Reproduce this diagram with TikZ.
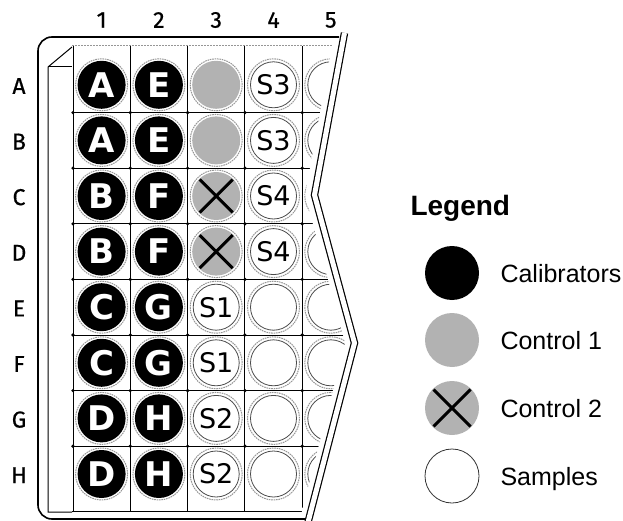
\documentclass[tikz,border=0pt]{standalone}
\usepackage{fontspec}
\setmainfont{Liberation Sans}
\newfontfamily\labfont[FakeBold=0.6]{Fira Sans}
\newfontfamily\wellfont{DejaVu Sans}
\usetikzlibrary{calc}
\definecolor{ctrlgray}{RGB}{178,178,178}
\definecolor{ringgray}{RGB}{150,150,150}
\tikzset{
  ring/.style={draw=ringgray, line width=1pt, dash pattern=on 1.6pt off 0.8pt},
  wellbase/.style={circle, minimum size=48pt, inner sep=0pt, outer sep=0pt},
  calib/.style={wellbase, fill=black, text=white, font=\wellfont\bfseries\fontsize{34}{34}\selectfont},
  ctrlA/.style={wellbase, fill=ctrlgray},
  ctrlB/.style={wellbase, fill=ctrlgray},
  sample/.style={wellbase, minimum size=46pt, fill=white, draw=black!70, line width=0.8pt, font=\wellfont\fontsize{27}{27}\selectfont},
  xmark/.style={line width=3pt, black},
  gridline/.style={line width=1pt, black},
  framel/.style={line width=1.6pt, black},
  lab/.style={font=\labfont\fontsize{23}{23}\selectfont},
  legcirc/.style={circle, minimum size=54pt, inner sep=0pt},
  legtext/.style={anchor=base west, font=\fontsize{25}{25}\selectfont},
}
\begin{document}
\begin{tikzpicture}[x=1pt,y=-1pt]
\useasboundingbox (0,0) rectangle (623,521);

% column and row labels
\foreach \c in {1,...,5}
  \node[lab] (col\c) at ({101.6+57.3*(\c-1)},20) {\c};
\foreach \i/\L in {1/A,2/B,3/C,4/D,5/E,6/F,7/G,8/H}
  \node[lab] (row\L) at (19,{86+55.6*(\i-1)}) {\L};

% grid and wells, clipped by the plate edge
\begin{scope}
  \clip (333,0) -- (333,40) -- (305,195) -- (345,343) -- (297,530) -- (0,530) -- (0,0) -- cycle;
  \draw[draw=ringgray, line width=1pt, dash pattern=on 2pt off 1pt] (72,46) -- (360,46);
  \foreach \x in {73,130.3,187.6,244.9,302.2}
    \draw[gridline] (\x,46) -- (\x,511);
  \foreach \y in {112.6,168.2,223.8,279.4,335,390.6,446.2}
    \draw[gridline] (73,\y) -- (380,\y);
  \draw[gridline] (72,511) -- (380,511);
  \foreach \x in {73,130.3,187.6,244.9,302.2}
    \foreach \y in {112.6,168.2,223.8,279.4,335,390.6,446.2}
      \fill (\x,\y) circle[radius=1.8pt];
  \foreach \c/\i/\sty/\txt in {
      1/1/calib/A,1/2/calib/A,1/3/calib/B,1/4/calib/B,1/5/calib/C,1/6/calib/C,1/7/calib/D,1/8/calib/D,
      2/1/calib/E,2/2/calib/E,2/3/calib/F,2/4/calib/F,2/5/calib/G,2/6/calib/G,2/7/calib/H,2/8/calib/H,
      3/1/ctrlA/{},3/2/ctrlA/{},3/3/ctrlB/{},3/4/ctrlB/{},3/5/sample/S1,3/6/sample/S1,3/7/sample/S2,3/8/sample/S2,
      4/1/sample/S3,4/2/sample/S3,4/3/sample/S4,4/4/sample/S4,4/5/sample/{},4/6/sample/{},4/7/sample/{},4/8/sample/{},
      5/1/sample/{},5/2/sample/{},5/3/sample/{},5/4/sample/{},5/5/sample/{},5/6/sample/{},5/7/sample/{},5/8/sample/{}}
  {
    \path[ring] ({101.6+57.3*(\c-1)},{84.8+55.6*(\i-1)}) circle[radius=26pt];
    \node[\sty] (w-\c-\i) at ({101.6+57.3*(\c-1)},{84.8+55.6*(\i-1)}) {\txt};
  }
  \foreach \i in {3,4} {
    \draw[xmark] ($(w-3-\i.center)+(-16.5,-16.5)$) -- ($(w-3-\i.center)+(16.5,16.5)$);
    \draw[xmark] ($(w-3-\i.center)+(-16.5,16.5)$) -- ($(w-3-\i.center)+(16.5,-16.5)$);
  }
\end{scope}

% plate frame
\draw[framel, rounded corners=14pt] (339,37) -- (38,37) -- (38,519) -- (305,519);
\draw[line width=1pt] (72,47) -- (48,67) -- (48,512) -- (72,512);
\draw[line width=1pt] (48,67) -- (72,67);
\draw[line width=1.2pt, double=white, double distance=5pt, line join=miter]
  (344.5,33) -- (314.5,195) -- (354.5,343) -- (306,530);

% legend
\node[anchor=base west, font=\bfseries\fontsize{28}{28}\selectfont] (legtitle) at (407,215) {Legend};
\node[legcirc, fill=black] (lc1) at (452,273) {};
\node[legcirc, fill=ctrlgray] (lc2) at (452,340) {};
\node[legcirc, fill=ctrlgray] (lc3) at (452,408) {};
\node[legcirc, fill=white, draw=black!80, line width=0.8pt] (lc4) at (452,476) {};
\draw[xmark] ($(lc3.center)+(-18.5,-18.5)$) -- ($(lc3.center)+(18.5,18.5)$);
\draw[xmark] ($(lc3.center)+(-18.5,18.5)$) -- ($(lc3.center)+(18.5,-18.5)$);
\node[legtext] (lt1) at (497,282) {Calibrators};
\node[legtext] (lt2) at (497,349) {Control 1};
\node[legtext] (lt3) at (497,417) {Control 2};
\node[legtext] (lt4) at (497,485) {Samples};
\end{tikzpicture}
\end{document}
